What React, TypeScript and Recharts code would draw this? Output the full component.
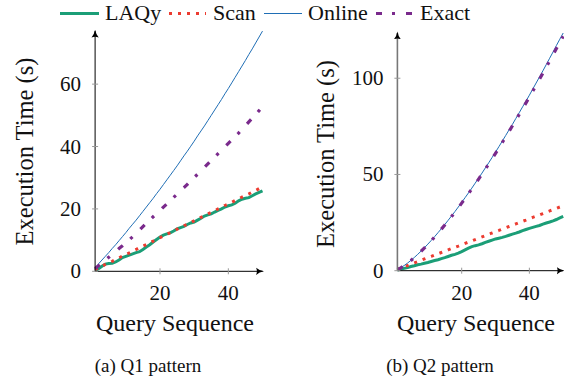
import React from 'react';
import { LineChart, Line, XAxis, YAxis } from 'recharts';

const queries = [1,2,3,4,5,6,7,8,9,10,11,12,13,14,15,16,17,18,19,20,21,22,23,24,25,26,27,28,29,30,31,32,33,34,35,36,37,38,39,40,41,42,43,44,45,46,47,48,49,50];

const q1Laqy = [0.3,0.8,1.6,2.3,2.5,2.6,3.0,3.6,4.4,4.8,5.2,5.6,6.0,6.3,7.0,7.8,8.5,9.4,10.2,11.0,11.6,12.0,12.3,12.9,13.6,14.0,14.4,15.0,15.5,15.8,16.4,17.0,17.7,18.1,18.4,19.0,19.5,20.0,20.6,21.0,21.3,21.8,22.6,23.1,23.4,23.6,24.2,24.8,25.3,25.8];
const q1Scan = [0.5,1.1,1.6,2.2,2.7,3.2,3.8,4.3,4.9,5.4,5.9,6.5,7.0,7.6,8.1,8.6,9.2,9.7,10.3,10.8,11.3,11.9,12.4,13.0,13.5,14.0,14.6,15.1,15.7,16.2,16.7,17.3,17.8,18.4,18.9,19.4,20.0,20.5,21.1,21.6,22.1,22.7,23.2,23.8,24.3,24.8,25.4,25.9,26.5,27.0];
const q1Online = [0.9,2.4,3.6,4.8,6.0,7.3,8.5,9.8,11.1,12.4,13.8,15.1,16.4,17.8,19.2,20.6,22.0,23.4,24.9,26.3,27.8,29.3,30.8,32.3,33.8,35.4,37.0,38.5,40.1,41.7,43.4,45.0,46.6,48.3,50.0,51.7,53.4,55.1,56.9,58.6,60.4,62.2,64.0,65.8,67.6,69.5,71.3,73.2,75.1,77.0];
const q1Exact = [0.9,1.8,2.7,3.6,4.5,5.4,6.3,7.3,8.2,9.2,10.1,11.1,12.1,13.2,14.3,15.4,16.4,17.5,18.5,19.5,20.6,21.6,22.6,23.7,24.7,25.8,26.8,27.9,29.0,30.1,31.1,32.2,33.3,34.4,35.5,36.6,37.7,38.8,39.9,41.0,42.1,43.2,44.3,45.5,46.7,47.9,49.1,50.3,51.5,52.7];

const q2Laqy = [0.3,0.8,1.2,1.6,2.2,2.6,3.1,3.4,3.9,4.3,4.8,5.3,5.7,6.3,6.8,7.4,8.0,8.5,9.1,9.9,10.8,11.7,12.5,13.0,13.4,14.0,14.7,15.3,15.9,16.5,16.9,17.3,17.8,18.4,19.0,19.5,20.1,20.8,21.4,22.0,22.5,23.0,23.5,24.2,24.8,25.3,25.9,26.6,27.4,28.2];
const q2Scan = [0.7,1.35,2.0,2.7,3.4,4.05,4.7,5.4,6.1,6.75,7.4,8.1,8.8,9.45,10.1,10.8,11.5,12.15,12.8,13.5,14.2,14.85,15.5,16.2,16.9,17.55,18.2,18.9,19.6,20.25,20.9,21.6,22.3,22.95,23.6,24.3,25.0,25.65,26.3,27.0,27.7,28.35,29.0,29.7,30.4,31.05,31.7,32.4,33.1,33.75];
const q2Online = [0.6,1.55,2.68,3.96,5.37,6.88,8.49,10.19,11.96,13.8,15.72,17.69,19.75,21.83,23.98,26.19,28.44,30.72,33.09,35.49,37.95,40.41,42.91,45.51,48.09,50.72,53.42,56.1,58.86,61.62,64.45,67.32,70.25,73.16,76.03,79.1,82.07,85.14,88.11,91.18,94.35,97.52,100.68,103.85,107.12,110.39,113.65,117.02,120.29,123.5];
const q2Exact = [0.6,1.5,2.6,3.9,5.3,6.8,8.4,10.1,11.8,13.6,15.5,17.5,19.5,21.6,23.7,25.9,28.1,30.4,32.7,35.1,37.5,40.0,42.5,45.0,47.6,50.2,52.8,55.5,58.2,61.0,63.8,66.6,69.5,72.4,75.3,78.2,81.2,84.2,87.2,90.2,93.3,96.4,99.5,102.6,105.8,109.0,112.2,115.4,118.6,121.8];

const seriesNames = ['LAQy', 'Scan', 'Online', 'Exact'];
const seriesKeys = ['laqy', 'scan', 'online', 'exact'];
const seriesColors = ['#1b9e77', '#ec3b30', '#1f6eb5', '#7a2a8c'];
const seriesWidths = [3, 3, 1, 3.2];
const seriesDash = [undefined, '3 6', undefined, '6 10 3 11'];

const xTicks = [20, 40];
const q1YTicks = [0, 20, 40, 60];
const q2YTicks = [0, 50, 100];
const xLabel = 'Query Sequence';
const yLabel = 'Execution Time (s)';
const captions = ['(a) Q1 pattern', '(b) Q2 pattern'];

const FONT = '"Liberation Serif", "Times New Roman", serif';

const build = (l: number[], s: number[], o: number[], e: number[]) =>
  queries.map((x, i) => ({ x, laqy: l[i], scan: s[i], online: o[i], exact: e[i] }));

const q1Data = build(q1Laqy, q1Scan, q1Online, q1Exact);
const q2Data = build(q2Laqy, q2Scan, q2Online, q2Exact);

const XTick = (props: any) => {
  const { x, y, payload } = props;
  return (
    <g>
      <line x1={x} x2={x} y1={y - 3} y2={y + 3} stroke="#999" strokeWidth={1} />
      <text x={x} y={y + 29} textAnchor="middle" fontFamily={FONT} fontSize={21} fill="#111">
        {payload.value}
      </text>
    </g>
  );
};

const YTick = (props: any) => {
  const { x, y, payload } = props;
  return (
    <g>
      <line x1={x - 3} x2={x + 3} y1={y} y2={y} stroke="#999" strokeWidth={1} />
      <text x={x - 14} y={y + 7} textAnchor="end" fontFamily={FONT} fontSize={21} fill="#111">
        {payload.value}
      </text>
    </g>
  );
};

const renderLines = () =>
  seriesKeys.map((k, i) => (
    <Line
      key={k}
      type="linear"
      dataKey={k}
      stroke={seriesColors[i]}
      strokeWidth={seriesWidths[i]}
      strokeDasharray={seriesDash[i]}
      dot={false}
      activeDot={false}
      isAnimationActive={false}
    />
  ));

const Panel = ({ data, yMax, yTicks, margin, yAxisColor, yAxisWidth }: any) => (
  <LineChart width={margin.w} height={310} data={data} margin={{ top: margin.top, right: margin.right, bottom: margin.bottom, left: margin.left }}>
    <XAxis
      type="number"
      dataKey="x"
      domain={[1, 50]}
      ticks={xTicks}
      interval={0}
      tickSize={0}
      tickMargin={0}
      tickLine={false}
      tick={<XTick />}
      height={30}
      axisLine={{ stroke: '#000', strokeWidth: 1, markerEnd: 'url(#axisArrow)' }}
    />
    <YAxis
      type="number"
      domain={[0, yMax]}
      ticks={yTicks}
      interval={0}
      tickSize={0}
      tickMargin={0}
      tickLine={false}
      tick={<YTick />}
      width={60}
      axisLine={{ stroke: yAxisColor, strokeWidth: yAxisWidth, markerStart: 'url(#axisArrow)' }}
    />
    {renderLines()}
  </LineChart>
);

const legendLayout = [
  { x1: 60, x2: 99, tx: 105 },
  { x1: 169, x2: 206, tx: 213 },
  { x1: 264, x2: 302, tx: 308 },
  { x1: 376, x2: 412, tx: 420 },
];

export default function App() {
  return (
    <div style={{ position: 'absolute', left: 0, top: 0, width: 564, height: 383, background: '#fff', overflow: 'hidden' }}>
      <svg width={0} height={0} style={{ position: 'absolute' }}>
        <defs>
          <marker id="axisArrow" viewBox="0 0 10 10" refX="8" refY="5" markerWidth="8" markerHeight="8" markerUnits="userSpaceOnUse" orient="auto-start-reverse">
            <path d="M0,0.5 Q4,4 10,5 Q4,6 0,9.5 Q2,5 0,0.5 z" fill="#000" />
          </marker>
        </defs>
      </svg>
      <div style={{ position: 'absolute', left: 0, top: 0 }}>
        <Panel data={q1Data} yMax={77} yTicks={q1YTicks} yAxisColor="#000" yAxisWidth={1}
          margin={{ w: 280, top: 31.1, right: 17.5, bottom: 8.7, left: 35.1 }} />
      </div>
      <div style={{ position: 'absolute', left: 300, top: 0 }}>
        <Panel data={q2Data} yMax={123.5} yTicks={q2YTicks} yAxisColor="#777" yAxisWidth={1.6}
          margin={{ w: 264, top: 33, right: 0.8, bottom: 9.3, left: 37.4 }} />
      </div>
      <svg width={564} height={383} style={{ position: 'absolute', left: 0, top: 0, pointerEvents: 'none' }}>
        {seriesNames.map((n, i) => (
          <g key={n}>
            <line x1={legendLayout[i].x1} x2={legendLayout[i].x2} y1={13.5} y2={13.5}
              stroke={seriesColors[i]} strokeWidth={seriesWidths[i]} strokeDasharray={seriesDash[i]} />
            <text x={legendLayout[i].tx} y={20} fontFamily={FONT} fontSize={22} fill="#111">{n}</text>
          </g>
        ))}
        <text x={0} y={0} transform="translate(32.5,151.5) rotate(-90)" textAnchor="middle" fontFamily={FONT} fontSize={24.5} fill="#111">{yLabel}</text>
        <text x={0} y={0} transform="translate(333.5,154) rotate(-90)" textAnchor="middle" fontFamily={FONT} fontSize={24.5} fill="#111">{yLabel}</text>
        <text x={175} y={331} textAnchor="middle" fontFamily={FONT} fontSize={24} fill="#111">{xLabel}</text>
        <text x={476} y={331} textAnchor="middle" fontFamily={FONT} fontSize={24} fill="#111">{xLabel}</text>
        <text x={148} y={372} textAnchor="middle" fontFamily={FONT} fontSize={19} fill="#111">{captions[0]}</text>
        <text x={440} y={372} textAnchor="middle" fontFamily={FONT} fontSize={19} fill="#111">{captions[1]}</text>
      </svg>
    </div>
  );
}
